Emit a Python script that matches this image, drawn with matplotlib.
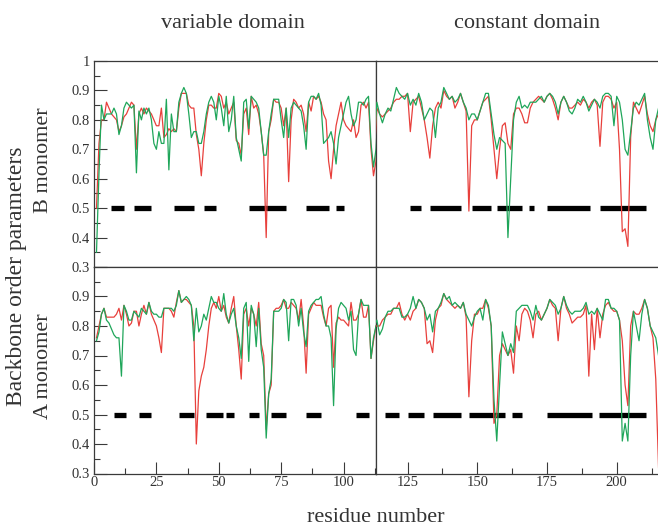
import numpy as np
import matplotlib.pyplot as plt
from matplotlib.ticker import MultipleLocator, FuncFormatter

plt.rcParams['font.family'] = ['Liberation Serif', 'DejaVu Serif']

# Order parameters per residue (1..215), two runs per monomer
residues = np.arange(1, 216)

b_red = [
    0.50, 0.72, 0.80, 0.80, 0.86, 0.84, 0.82, 0.81, 0.80, 0.76,
    0.78, 0.81, 0.82, 0.84, 0.86, 0.85, 0.70, 0.82, 0.84, 0.82,
    0.84, 0.83, 0.82, 0.80, 0.78, 0.78, 0.84, 0.74, 0.75, 0.77,
    0.76, 0.77, 0.76, 0.84, 0.89, 0.89, 0.89, 0.85, 0.84, 0.84,
    0.75, 0.70, 0.61, 0.72, 0.80, 0.85, 0.85, 0.84, 0.84, 0.89,
    0.88, 0.84, 0.86, 0.82, 0.84, 0.86, 0.73, 0.72, 0.68, 0.82,
    0.84, 0.75, 0.88, 0.84, 0.85, 0.82, 0.76, 0.68, 0.40, 0.76,
    0.80, 0.87, 0.86, 0.86, 0.84, 0.78, 0.84, 0.59, 0.80, 0.87,
    0.86, 0.84, 0.85, 0.82, 0.76, 0.86, 0.83, 0.88, 0.87, 0.88,
    0.86, 0.82, 0.80, 0.66, 0.60, 0.70, 0.78, 0.82, 0.86, 0.80,
    0.78, 0.77, 0.76, 0.80, 0.74, 0.76, 0.85, 0.86, 0.84, 0.86,
    0.70, 0.61, 0.66, 0.84, 0.82, 0.81, 0.82, 0.83, 0.84, 0.86,
    0.87, 0.87, 0.88, 0.88, 0.89, 0.76, 0.86, 0.87, 0.88, 0.84,
    0.80, 0.74, 0.67, 0.78, 0.84, 0.86, 0.84, 0.90, 0.88, 0.87,
    0.88, 0.84, 0.86, 0.89, 0.86, 0.83, 0.49, 0.78, 0.80, 0.80,
    0.83, 0.86, 0.87, 0.88, 0.80, 0.70, 0.60, 0.70, 0.78, 0.79,
    0.72, 0.70, 0.82, 0.84, 0.84, 0.82, 0.79, 0.79, 0.84, 0.86,
    0.87, 0.88, 0.87, 0.86, 0.88, 0.89, 0.87, 0.84, 0.80, 0.86,
    0.88, 0.86, 0.84, 0.84, 0.85, 0.86, 0.85, 0.87, 0.86, 0.84,
    0.86, 0.87, 0.85, 0.71, 0.86, 0.88, 0.88, 0.87, 0.84, 0.86,
    0.70, 0.42, 0.43, 0.37, 0.74, 0.86, 0.84, 0.82, 0.85, 0.88,
    0.82, 0.78, 0.76, 0.80, 0.82,
]

b_green = [
    0.35, 0.62, 0.85, 0.80, 0.82, 0.82, 0.82, 0.84, 0.82, 0.75,
    0.78, 0.84, 0.86, 0.85, 0.84, 0.85, 0.62, 0.83, 0.80, 0.84,
    0.82, 0.84, 0.80, 0.72, 0.70, 0.76, 0.72, 0.72, 0.87, 0.63,
    0.82, 0.76, 0.76, 0.86, 0.89, 0.91, 0.89, 0.82, 0.74, 0.76,
    0.76, 0.72, 0.72, 0.76, 0.82, 0.86, 0.88, 0.86, 0.80, 0.88,
    0.84, 0.78, 0.88, 0.76, 0.80, 0.88, 0.74, 0.70, 0.66, 0.86,
    0.87, 0.77, 0.88, 0.87, 0.86, 0.84, 0.76, 0.68, 0.68, 0.76,
    0.82, 0.87, 0.87, 0.87, 0.80, 0.74, 0.84, 0.74, 0.84, 0.86,
    0.85, 0.84, 0.83, 0.78, 0.70, 0.86, 0.88, 0.88, 0.87, 0.89,
    0.85, 0.72, 0.73, 0.74, 0.76, 0.72, 0.65, 0.74, 0.78, 0.82,
    0.86, 0.88, 0.82, 0.78, 0.80, 0.86, 0.86, 0.85, 0.87, 0.88,
    0.72, 0.64, 0.70, 0.86, 0.82, 0.79, 0.82, 0.84, 0.83, 0.87,
    0.91, 0.89, 0.88, 0.87, 0.89, 0.85, 0.87, 0.85, 0.89, 0.86,
    0.80, 0.82, 0.84, 0.83, 0.74, 0.84, 0.86, 0.91, 0.89, 0.87,
    0.88, 0.86, 0.87, 0.89, 0.86, 0.84, 0.80, 0.82, 0.82, 0.80,
    0.83, 0.86, 0.89, 0.89, 0.82, 0.75, 0.70, 0.74, 0.73, 0.72,
    0.40, 0.60, 0.80, 0.86, 0.88, 0.84, 0.85, 0.84, 0.86, 0.86,
    0.86, 0.87, 0.88, 0.86, 0.88, 0.89, 0.88, 0.86, 0.82, 0.86,
    0.88, 0.86, 0.83, 0.82, 0.84, 0.87, 0.86, 0.88, 0.86, 0.83,
    0.85, 0.87, 0.86, 0.84, 0.88, 0.89, 0.89, 0.88, 0.78, 0.88,
    0.86, 0.80, 0.70, 0.68, 0.76, 0.84, 0.86, 0.85, 0.87, 0.89,
    0.80, 0.74, 0.70, 0.80, 0.84,
]

a_red = [
    0.76, 0.80, 0.84, 0.86, 0.83, 0.83, 0.83, 0.83, 0.84, 0.86,
    0.82, 0.87, 0.84, 0.80, 0.81, 0.85, 0.85, 0.80, 0.84, 0.87,
    0.84, 0.88, 0.84, 0.82, 0.80, 0.76, 0.71, 0.86, 0.86, 0.86,
    0.85, 0.83, 0.88, 0.92, 0.88, 0.89, 0.89, 0.88, 0.87, 0.80,
    0.40, 0.58, 0.63, 0.66, 0.72, 0.80, 0.86, 0.88, 0.86, 0.90,
    0.85, 0.87, 0.83, 0.81, 0.86, 0.90, 0.80, 0.72, 0.62, 0.84,
    0.86, 0.80, 0.86, 0.84, 0.80, 0.88, 0.74, 0.70, 0.45, 0.57,
    0.60, 0.85, 0.86, 0.86, 0.87, 0.89, 0.86, 0.86, 0.88, 0.87,
    0.86, 0.82, 0.89, 0.80, 0.64, 0.84, 0.86, 0.88, 0.87, 0.87,
    0.87, 0.83, 0.80, 0.86, 0.87, 0.66, 0.81, 0.83, 0.82, 0.82,
    0.81, 0.80, 0.88, 0.82, 0.82, 0.84, 0.89, 0.83, 0.83, 0.87,
    0.69, 0.75, 0.80, 0.80, 0.80, 0.82, 0.83, 0.84, 0.84, 0.86,
    0.86, 0.88, 0.84, 0.82, 0.84, 0.82, 0.85, 0.86, 0.89, 0.88,
    0.86, 0.74, 0.75, 0.71, 0.82, 0.86, 0.87, 0.91, 0.89, 0.88,
    0.87, 0.86, 0.87, 0.86, 0.88, 0.83, 0.56, 0.75, 0.84, 0.84,
    0.86, 0.86, 0.89, 0.86, 0.80, 0.47, 0.50, 0.70, 0.74, 0.72,
    0.70, 0.72, 0.64, 0.80, 0.75, 0.84, 0.86, 0.85, 0.82, 0.76,
    0.84, 0.85, 0.82, 0.84, 0.86, 0.89, 0.87, 0.86, 0.75, 0.86,
    0.90, 0.86, 0.84, 0.81, 0.82, 0.83, 0.83, 0.84, 0.87, 0.63,
    0.84, 0.72, 0.86, 0.76, 0.84, 0.87, 0.88, 0.86, 0.85, 0.85,
    0.82, 0.75, 0.60, 0.53, 0.80, 0.85, 0.84, 0.84, 0.86, 0.89,
    0.86, 0.80, 0.76, 0.62, 0.32,
]

a_green = [
    0.75, 0.78, 0.84, 0.86, 0.82, 0.81, 0.79, 0.77, 0.76, 0.76,
    0.63, 0.87, 0.85, 0.82, 0.82, 0.85, 0.84, 0.83, 0.86, 0.85,
    0.84, 0.88, 0.85, 0.84, 0.84, 0.83, 0.83, 0.86, 0.86, 0.86,
    0.86, 0.85, 0.87, 0.92, 0.88, 0.89, 0.90, 0.89, 0.87, 0.75,
    0.86, 0.78, 0.80, 0.84, 0.82, 0.86, 0.90, 0.88, 0.88, 0.86,
    0.85, 0.91, 0.84, 0.81, 0.84, 0.86, 0.80, 0.76, 0.69, 0.86,
    0.88, 0.68, 0.87, 0.84, 0.73, 0.86, 0.72, 0.66, 0.42, 0.57,
    0.62, 0.85, 0.85, 0.85, 0.86, 0.89, 0.88, 0.75, 0.89, 0.89,
    0.87, 0.80, 0.86, 0.78, 0.73, 0.85, 0.87, 0.88, 0.89, 0.89,
    0.90, 0.84, 0.80, 0.80, 0.76, 0.53, 0.79, 0.86, 0.88, 0.87,
    0.86, 0.82, 0.85, 0.72, 0.70, 0.84, 0.89, 0.87, 0.87, 0.87,
    0.69, 0.76, 0.80, 0.82, 0.77, 0.79, 0.83, 0.85, 0.85, 0.86,
    0.86, 0.86, 0.83, 0.83, 0.84, 0.86, 0.90, 0.86, 0.89, 0.88,
    0.86, 0.82, 0.84, 0.78, 0.85, 0.86, 0.88, 0.91, 0.89, 0.90,
    0.87, 0.88, 0.87, 0.86, 0.88, 0.84, 0.82, 0.80, 0.83, 0.85,
    0.86, 0.82, 0.89, 0.87, 0.80, 0.55, 0.41, 0.60, 0.78, 0.74,
    0.70, 0.74, 0.71, 0.85, 0.86, 0.87, 0.87, 0.87, 0.85, 0.82,
    0.87, 0.83, 0.82, 0.84, 0.86, 0.89, 0.88, 0.87, 0.84, 0.86,
    0.90, 0.87, 0.85, 0.84, 0.85, 0.85, 0.85, 0.86, 0.88, 0.84,
    0.85, 0.84, 0.86, 0.84, 0.82, 0.89, 0.89, 0.86, 0.86, 0.85,
    0.82, 0.41, 0.47, 0.41, 0.70, 0.85, 0.80, 0.75, 0.84, 0.89,
    0.86, 0.80, 0.78, 0.76, 0.70,
]

# secondary structure (strand) ranges, drawn as bars at 0.5
b_strands = [(7, 12), (16, 23), (32, 40), (44, 49), (62, 77), (85, 94), (97, 100),
             (126, 130), (133, 144), (148, 155), (157, 166), (168.5, 170.5),
             (175, 190.5), (194, 210.5)]
a_strands = [(8, 13), (18, 23), (34, 40), (45, 51.5), (53, 56), (62, 66), (71, 77),
             (85, 91), (105, 110), (117, 122), (125, 131), (134, 144), (147, 160),
             (162.5, 166), (175, 191), (193.5, 210.5)]

for name, s in [('b_red', b_red), ('b_green', b_green), ('a_red', a_red), ('a_green', a_green)]:
    if len(s) != len(residues):
        print(f"Error: {name} has {len(s)} values, expected {len(residues)}")

RED = '#e8403c'
GREEN = '#1fa65a'
AXC = '#3a3a3a'

W, H = 658, 529
fig = plt.figure(figsize=(W / 100, H / 100), dpi=100)


def box(x0, y0, x1, y1):
    return [x0 / W, 1 - y1 / H, (x1 - x0) / W, (y1 - y0) / H]


ax_bl = fig.add_axes(box(94, 61, 376, 267))
ax_br = fig.add_axes(box(376, 61, 658, 267))
ax_al = fig.add_axes(box(94, 267, 376, 473.5))
ax_ar = fig.add_axes(box(376, 267, 658, 473.5))

panels = [
    (ax_bl, b_red, b_green, b_strands, 'left', 'top'),
    (ax_br, b_red, b_green, b_strands, 'right', 'top'),
    (ax_al, a_red, a_green, a_strands, 'left', 'bottom'),
    (ax_ar, a_red, a_green, a_strands, 'right', 'bottom'),
]

for ax, red, green, strands, side, row in panels:
    ax.plot(residues, red, color=RED, lw=0.9, zorder=3)
    ax.plot(residues, green, color=GREEN, lw=0.9, zorder=3)
    ax.hlines([0.5] * len(strands), [s[0] for s in strands], [s[1] for s in strands],
              color='black', lw=3.8, zorder=2)
    ax.set_ylim(0.3, 1.0)
    if side == 'left':
        ax.set_xlim(0, 113)
    else:
        ax.set_xlim(113.7, 214.8)
        ax.spines['right'].set_visible(False)
    for sp in ax.spines.values():
        sp.set_color(AXC)
        sp.set_linewidth(0.9)

    ax.xaxis.set_major_locator(MultipleLocator(25))
    ax.xaxis.set_minor_locator(MultipleLocator(12.5))
    ax.yaxis.set_major_locator(MultipleLocator(0.1))
    ax.yaxis.set_minor_locator(MultipleLocator(0.05))
    ax.tick_params(which='both', direction='in', colors=AXC, labelcolor='#333333',
                   labelsize=10.5, top=False, right=False, width=0.8)
    ax.tick_params(which='major', length=9)
    ax.tick_params(which='minor', length=4.5)

    if row == 'top':
        ax.tick_params(axis='x', which='both', bottom=False, labelbottom=False)
    else:
        ax.tick_params(axis='x', pad=2)
    if side == 'right':
        ax.tick_params(axis='y', which='both', left=False, labelleft=False)
    else:
        ax.tick_params(axis='y', pad=3)
        if row == 'top':
            ax.yaxis.set_major_formatter(FuncFormatter(lambda v, p: f'{v:g}'))
        else:
            ax.yaxis.set_major_formatter(
                FuncFormatter(lambda v, p: '' if v > 0.95 else f'{v:g}'))

fig.text(233 / W, 1 - 24 / H, 'variable domain', fontsize=16, ha='center', va='center', color='#333333')
fig.text(527 / W, 1 - 24 / H, 'constant domain', fontsize=16, ha='center', va='center', color='#333333')
fig.text(376 / W, 1 - 517 / H, 'residue number', fontsize=16, ha='center', va='center', color='#333333')
fig.text(17 / W, 1 - 276 / H, 'Backbone order parameters', fontsize=17, rotation=90,
         ha='center', va='center', color='#333333')
fig.text(44 / W, 1 - 160 / H, 'B monomer', fontsize=16, rotation=90, ha='center', va='center', color='#333333')
fig.text(44 / W, 1 - 366 / H, 'A monomer', fontsize=16, rotation=90, ha='center', va='center', color='#333333')

fig.savefig('out.png', dpi=100)
